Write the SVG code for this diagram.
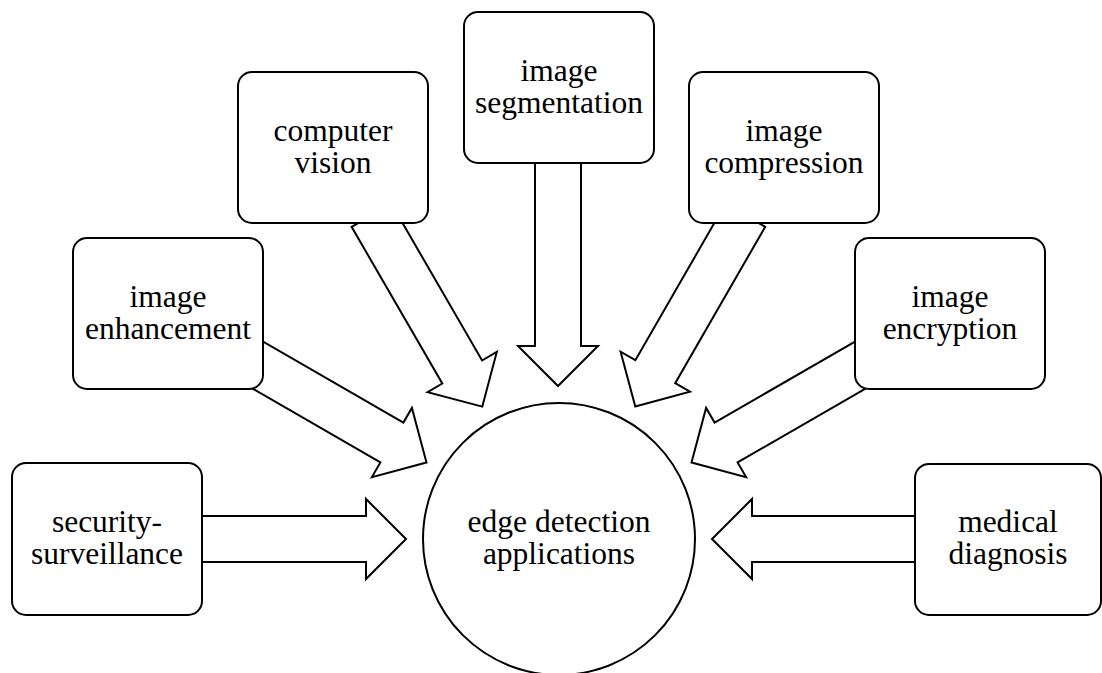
<svg xmlns="http://www.w3.org/2000/svg" width="1102" height="673" viewBox="0 0 1102 673">
<style>
.node{fill:#fff;stroke:#000;stroke-width:2}
.arrow{fill:#fff;stroke:#000;stroke-width:2;stroke-linejoin:miter}
text{font-family:"Liberation Serif","Times New Roman",serif;font-size:31.5px;fill:#000;text-anchor:middle}
</style>
<rect width="1102" height="673" fill="#fff"/>
<g id="connectors">
<polygon class="arrow" points="535,150 535,346 518,346 558,386 598,346 581,346 581,150"/>
<polygon class="arrow" points="190,516 366,516 366,499 406,539 366,579 366,562 190,562"/>
<polygon class="arrow" points="925,516 752,516 752,499 712,539 752,579 752,562 925,562"/>
<polygon class="arrow" points="391.4,203.8 482.1,360.5 496.8,351.9 482.3,406.6 427.6,392.1 442.3,383.5 351.6,226.8"/>
<polygon class="arrow" points="725.4,203.8 635.4,360.2 620.6,351.7 635.3,406.4 690.0,391.7 675.2,383.2 765.2,226.8"/>
<polygon class="arrow" points="249.5,333.8 403.4,422.6 411.9,407.9 426.5,462.5 371.9,477.1 380.4,462.4 226.5,373.6"/>
<polygon class="arrow" points="868.5,333.8 714.6,422.6 706.1,407.9 691.5,462.5 746.1,477.1 737.6,462.4 891.5,373.6"/>
</g>
<g id="center">
<circle class="node" cx="559" cy="539" r="136"/>
<text x="559" y="532">edge detection</text>
<text x="559" y="564">applications</text>
</g>
<g id="segmentation">
<rect class="node" x="464" y="12" width="190" height="151" rx="14"/>
<text x="559" y="80.5">image</text>
<text x="559" y="112.5">segmentation</text>
</g>
<g id="computer-vision">
<rect class="node" x="238" y="72" width="190" height="151" rx="14"/>
<text x="333" y="140.5">computer</text>
<text x="333" y="172.5">vision</text>
</g>
<g id="compression">
<rect class="node" x="689" y="72" width="190" height="151" rx="14"/>
<text x="784" y="140.5">image</text>
<text x="784" y="172.5">compression</text>
</g>
<g id="enhancement">
<rect class="node" x="73" y="238" width="190" height="151" rx="14"/>
<text x="168" y="306.5">image</text>
<text x="168" y="338.5">enhancement</text>
</g>
<g id="encryption">
<rect class="node" x="855" y="238" width="190" height="151" rx="14"/>
<text x="950" y="306.5">image</text>
<text x="950" y="338.5">encryption</text>
</g>
<g id="security">
<rect class="node" x="12" y="463" width="190" height="152" rx="14"/>
<text x="107" y="532">security-</text>
<text x="107" y="564">surveillance</text>
</g>
<g id="medical">
<rect class="node" x="915" y="464" width="186" height="151" rx="14"/>
<text x="1008" y="532">medical</text>
<text x="1008" y="564">diagnosis</text>
</g>
</svg>
